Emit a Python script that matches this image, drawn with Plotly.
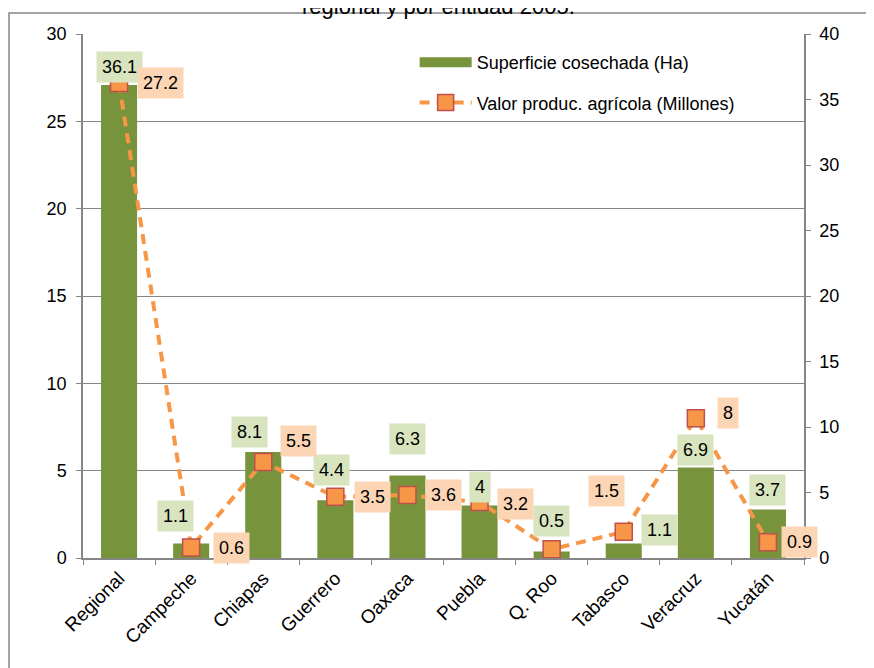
import plotly.graph_objects as go

categories = ["Regional", "Campeche", "Chiapas", "Guerrero", "Oaxaca",
              "Puebla", "Q. Roo", "Tabasco", "Veracruz", "Yucatán"]
superficie = [36.1, 1.1, 8.1, 4.4, 6.3, 4, 0.5, 1.1, 6.9, 3.7]
valor = [27.2, 0.6, 5.5, 3.5, 3.6, 3.2, 0.5, 1.5, 8, 0.9]
valor_label_shown = [True, True, True, True, True, True, False, True, True, True]

# label placement offsets (pixels)
bar_lbl_dx = [0, -16, -14, -4, 0, 0, 0, 36, 0, 0]
bar_lbl_dy = [18, 28, 20, 30, 36, 19, 30, 14, 18, 20]
line_lbl_dx = [41, 40, 35, 37, 36, 36, 0, -17, 32, 32]
line_lbl_dy = [0, 0, 21, 0, 0, -2, 0, 41, 5, 0]

FONT = "Liberation Sans, Arial, sans-serif"
GRAY = "#868686"
BAR_NAME = "Superficie cosechada (Ha)"
LINE_NAME = "Valor produc. agrícola (Millones)"

# plot area in figure pixels
L, R, T, B = 75, 796, 26, 550
W, H = 874, 668

fig = go.Figure()
fig.add_trace(go.Bar(
    x=categories, y=superficie, name=BAR_NAME, showlegend=False,
    marker=dict(color="#77933C", line=dict(width=0)), width=0.5,
    yaxis="y"))
# legend proxy for the bar series (wide swatch)
fig.add_trace(go.Scatter(
    x=[None], y=[None], name=BAR_NAME, mode="lines", yaxis="y",
    line=dict(color="#77933C", width=10), legendgroup="a"))
fig.add_trace(go.Scatter(
    x=categories, y=valor, name=LINE_NAME,
    mode="lines+markers", yaxis="y2", legendgroup="b",
    line=dict(color="#F79646", width=4, dash="10px,7px"),
    marker=dict(symbol="square", size=17, color="#F79646",
                line=dict(color="#C0504D", width=1.5))))

annotations = []
for i, c in enumerate(categories):
    annotations.append(dict(
        x=c, y=superficie[i], xref="x", yref="y", text=str(superficie[i]),
        showarrow=False, xshift=bar_lbl_dx[i], yshift=bar_lbl_dy[i],
        bgcolor="#D7E4BD", borderpad=5,
        font=dict(family=FONT, size=18, color="black")))
for i, c in enumerate(categories):
    if not valor_label_shown[i]:
        continue
    annotations.append(dict(
        x=c, y=valor[i], xref="x", yref="y2", text=str(valor[i]),
        showarrow=False, xshift=line_lbl_dx[i], yshift=line_lbl_dy[i],
        bgcolor="#FCD5B5", borderpad=5,
        font=dict(family=FONT, size=18, color="black")))

# title (second line of a title that is cut at the top of the page)
annotations.append(dict(
    text="regional y por entidad 2005.", xref="paper", yref="paper",
    x=(430 - L) / (R - L), y=(B + 2) / (B - T), xanchor="center",
    yanchor="middle", showarrow=False,
    font=dict(family=FONT, size=22, color="black")))

fig.update_layout(
    width=W, height=H,
    margin=dict(l=L, r=W - R, t=T, b=H - B),
    paper_bgcolor="white", plot_bgcolor="white",
    font=dict(family=FONT, size=18, color="black"),
    showlegend=True,
    legend=dict(x=0.46, y=0.981, xanchor="left", yanchor="top",
                bgcolor="rgba(0,0,0,0)", traceorder="grouped",
                tracegroupgap=14, itemwidth=52,
                font=dict(family=FONT, size=18)),
    xaxis=dict(type="category", range=[-0.5, len(categories) - 0.5],
               showgrid=False, showline=True,
               linecolor=GRAY, linewidth=1.5, ticks="outside",
               tickson="boundaries", ticklen=5, tickcolor=GRAY,
               tickangle=-45, tickfont=dict(family=FONT, size=19),
               zeroline=False),
    yaxis=dict(side="right", range=[0, 40], dtick=5, showgrid=False,
               showline=True, linecolor=GRAY, linewidth=1.5,
               ticks="outside", ticklen=5, tickcolor=GRAY,
               ticklabelstandoff=5,
               zeroline=False, tickfont=dict(family=FONT, size=18)),
    yaxis2=dict(side="left", overlaying="y", range=[0, 30], dtick=5,
                showgrid=True, gridcolor=GRAY, gridwidth=1,
                showline=True, linecolor=GRAY, linewidth=1.5,
                ticks="outside", ticklen=5, tickcolor=GRAY,
                ticklabelstandoff=6,
                zeroline=False, tickfont=dict(family=FONT, size=18)),
    annotations=annotations,
    shapes=[dict(type="rect", xref="paper", yref="paper",
                 x0=(1 - L) / (R - L), x1=1.2, y0=-0.5,
                 y1=(B - 5) / (B - T),
                 line=dict(color=GRAY, width=1.5), fillcolor="rgba(0,0,0,0)",
                 layer="below")],
)

fig.write_html("out.html")
